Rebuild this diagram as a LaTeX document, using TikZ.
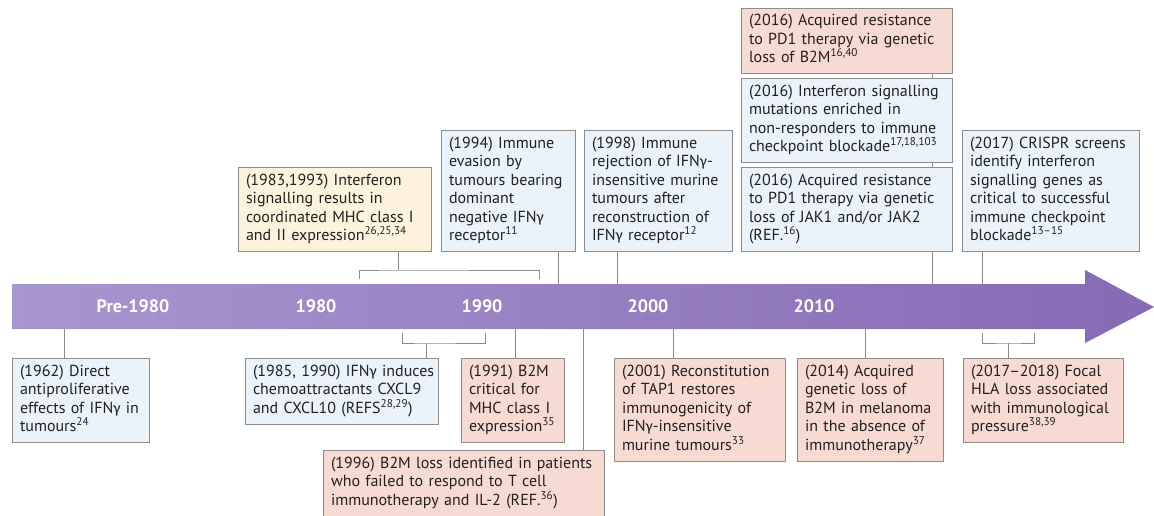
\documentclass[tikz,border=0pt]{standalone}
\usepackage{fontspec}
\setmainfont{PT Sans}
\newfontfamily\grk{Carlito}
\usetikzlibrary{positioning}

\definecolor{barL}{RGB}{168,150,208}
\definecolor{barR}{RGB}{134,106,180}
\definecolor{ifncol}{RGB}{234,243,250}
\definecolor{apcol}{RGB}{247,219,211}
\definecolor{mhccol}{RGB}{253,243,221}
\definecolor{edgecol}{RGB}{140,140,140}
\definecolor{inkcol}{RGB}{35,31,32}

\newcommand{\ifng}{IFN{\grk γ}}
\newcommand{\rf}[1]{\textsuperscript{#1}}

\begin{document}
\begin{tikzpicture}[
    x=1pt, y=-1pt,
    event/.style={draw=edgecol, line width=1pt, inner xsep=7.5pt, inner ysep=5pt,
        align=left, text=inkcol, font=\fontsize{16}{18.5}\selectfont,
        execute at begin node={\rightskip=-40pt plus 1fil\strut},
        execute at end node=\strut},
    ifnbox/.style={event, fill=ifncol},
    apbox/.style={event, fill=apcol},
    mhcbox/.style={event, fill=mhccol},
    year/.style={text=white, font=\bfseries\fontsize{18}{21}\selectfont},
    conn/.style={draw=edgecol, line width=1pt}
]
    \useasboundingbox (0,0) rectangle (1154,515);
    % Timeline arrow
    \shade[left color=barL, right color=barR]
        (12,284) -- (1085,284) -- (1085,270) -- (1154,307)
        -- (1085,343) -- (1085,329) -- (12,329) -- cycle;
    \foreach \yr/\xx [count=\i] in {Pre-1980/133, 1980/316, 1990/482, 2000/648, 2010/814} {
        \node[year] (yr\i) at (\xx,306) {\yr};
    }
    % Events below the bar
    \node[ifnbox, text width=122pt, anchor=north west] (e1962) at (12,358)
        {(1962) Direct\\antiproliferative\\effects of \ifng{} in\\tumours\rf{24}};
    \node[ifnbox, text width=178pt, anchor=north west] (e1985) at (245,358)
        {(1985, 1990) \ifng{} induces\\chemoattractants CXCL9\\and CXCL10 (REFS\rf{28,29})};
    \node[apbox, text width=88pt, anchor=north west] (e1991) at (461,358)
        {(1991) B2M\\critical for\\MHC class I\\expression\rf{35}};
    \node[apbox, text width=266pt, anchor=north west] (e1996) at (323,450)
        {(1996) B2M loss identified in patients\\who failed to respond to T cell\\immunotherapy and IL-2 (REF.\rf{36})};
    \node[apbox, text width=156pt, anchor=north west] (e2001) at (614,358)
        {(2001) Reconstitution\\of TAP1 restores\\immunogenicity of\\\ifng-insensitive\\murine tumours\rf{33}};
    \node[apbox, text width=131pt, anchor=north west] (e2014) at (797,358)
        {(2014) Acquired\\genetic loss of\\B2M in melanoma\\in the absence of\\immunotherapy\rf{37}};
    \node[apbox, text width=145pt, anchor=north west] (e2018) at (963,358)
        {(2017--2018) Focal\\HLA loss associated\\with immunological\\pressure\rf{38,39}};
    % Events above the bar
    \node[mhcbox, text width=178pt, anchor=south west] (e1983) at (238,252)
        {(1983,1993) Interferon\\signalling results in\\coordinated MHC class I\\and II expression\rf{26,25,34}};
    \node[ifnbox, text width=119pt, anchor=south west] (e1994) at (441,252)
        {(1994) Immune\\evasion by\\tumours bearing\\dominant\\negative \ifng\\receptor\rf{11}};
    \node[ifnbox, text width=133pt, anchor=south west] (e1998) at (584,252)
        {(1998) Immune\\rejection of \ifng-\\insensitive murine\\tumours after\\reconstruction of\\\ifng{} receptor\rf{12}};
    \node[ifnbox, text width=196pt, anchor=south west] (e2016c) at (741,252)
        {(2016) Acquired resistance\\to PD1 therapy via genetic\\loss of JAK1 and/or JAK2\\(REF.\rf{16})};
    \node[ifnbox, text width=196pt, above=4pt of e2016c] (e2016b)
        {(2016) Interferon signalling\\mutations enriched in\\non-responders to immune\\checkpoint blockade\rf{17,18,103}};
    \node[apbox, text width=196pt, above=4pt of e2016b] (e2016a)
        {(2016) Acquired resistance\\to PD1 therapy via genetic\\loss of B2M\rf{16,40}};
    \node[ifnbox, text width=162pt, anchor=south west] (e2017) at (962,252)
        {(2017) CRISPR screens\\identify interferon\\signalling genes as\\critical to successful\\immune checkpoint\\blockade\rf{13--15}};
    % Single connectors
    \foreach \e/\xx in {1962/64, 1991/515, 1996/583, 2001/673, 2014/865} {
        \coordinate (c\e) at (\xx,329);
        \draw[conn] (c\e) -- (c\e |- e\e.north);
    }
    \foreach \e/\xx in {1994/558, 1998/617, 2016c/932, 2017/982} {
        \coordinate (c\e) at (\xx,284);
        \draw[conn] (c\e) -- (c\e |- e\e.south);
    }
    \draw[conn] (c2016c |- e2016c.north) -- (c2016c |- e2016b.south);
    \draw[conn] (c2016c |- e2016b.north) -- (c2016c |- e2016a.south);
    % Brackets
    \coordinate (k1983a) at (359,279);
    \coordinate (k1983b) at (539,279);
    \coordinate (m1983) at (398,270);
    \draw[conn] (k1983a) |- (m1983) -| (k1983b);
    \draw[conn] (m1983) -- (m1983 |- e1983.south);
    \coordinate (k1985a) at (402,333);
    \coordinate (k1985b) at (485,333);
    \coordinate (m1985) at (426,343);
    \draw[conn] (k1985a) |- (m1985) -| (k1985b);
    \draw[conn] (m1985) -- (m1985 |- e1985.north);
    \coordinate (k2018a) at (982,333);
    \coordinate (k2018b) at (1034,333);
    \coordinate (m2018) at (1008,343);
    \draw[conn] (k2018a) |- (m2018) -| (k2018b);
    \draw[conn] (m2018) -- (m2018 |- e2018.north);
\end{tikzpicture}
\end{document}
